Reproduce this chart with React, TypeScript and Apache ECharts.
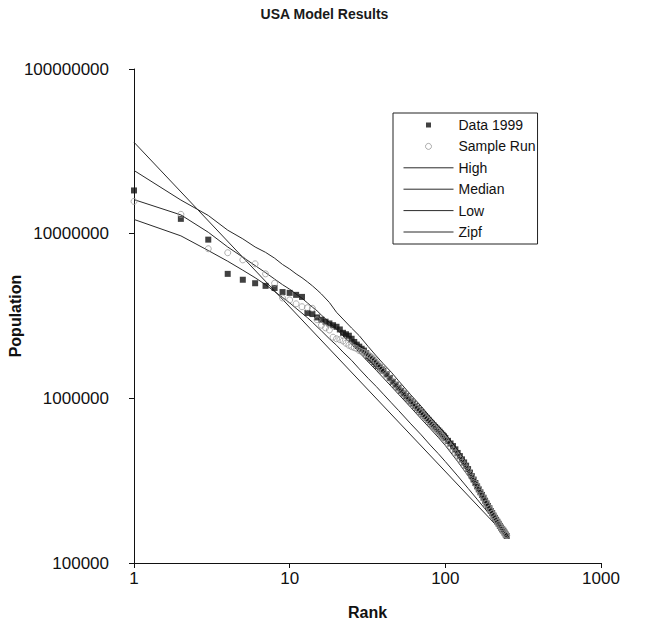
import React, { useEffect, useRef } from "react";
import * as echarts from "echarts";

const scatterRanks = [
  1, 2, 3, 4, 5, 6, 7, 8, 9, 10, 11, 12, 13, 14, 15, 16, 17, 18, 19, 20,
  21, 22, 23, 24, 25, 26, 27, 28, 29, 30, 31, 32, 33, 34, 35, 36, 37, 38, 39, 40,
  42, 44, 46, 48, 50, 52, 54, 56, 58, 60, 62, 64, 66, 68, 70, 72, 74, 76, 78, 80,
  82, 84, 86, 88, 90, 92, 94, 96, 98, 100,
  104, 108, 112, 116, 120, 124, 128, 132, 136, 140, 144, 148, 152, 156, 160, 164, 168, 172, 176, 180,
  184, 188, 192, 196, 200, 204, 208, 212, 216, 220, 224, 228, 232, 236, 240, 244, 248,
];

const data1999 = [
  18300000, 12300000, 9200000, 5700000, 5250000, 5000000, 4820000, 4680000, 4420000, 4370000,
  4250000, 4130000, 3300000, 3250000, 3100000, 3000000, 2920000, 2850000, 2780000, 2720000,
  2620000, 2500000, 2450000, 2400000, 2300000, 2200000, 2120000, 2060000, 2000000, 1950000,
  1880000, 1800000, 1750000, 1710000, 1660000, 1610000, 1570000, 1540000, 1500000, 1470000,
  1400000, 1330000, 1260000, 1210000, 1160000, 1110000, 1070000, 1030000, 995000, 960000,
  930000, 900000, 875000, 850000, 825000, 800000, 780000, 760000, 740000, 720000,
  702000, 685000, 670000, 655000, 640000, 627000, 613000, 600000, 588000, 575000,
  552000, 532000, 513000, 490000, 466000, 446000, 426000, 408000, 390000, 372000,
  354000, 337000, 321000, 306000, 292000, 280000, 269000, 259000, 249000, 239000,
  230000, 222000, 215000, 207000, 201000, 194000, 188000, 183000, 178000, 173000,
  168000, 164000, 160000, 157000, 153000, 149000, 146000,
];

const sampleRun = [
  15700000, 13100000, 8100000, 7660000, 6930000, 6560000, 5700000, 5000000, 4070000, 3960000,
  3750000, 3600000, 3550000, 3520000, 3000000, 2780000, 2680000, 2600000, 2350000, 2300000,
  2270000, 2230000, 2160000, 2100000, 2060000, 2030000, 2000000, 1950000, 1920000, 1900000,
  1870000, 1840000, 1800000, 1760000, 1710000, 1660000, 1600000, 1550000, 1500000, 1460000,
  1390000, 1320000, 1260000, 1200000, 1150000, 1110000, 1060000, 1020000, 990000, 955000,
  925000, 895000, 868000, 842000, 818000, 795000, 773000, 752000, 732000, 713000,
  694000, 676000, 660000, 645000, 630000, 615000, 600000, 587000, 574000, 560000,
  532000, 508000, 487000, 466000, 446000, 428000, 410000, 394000, 378000, 362000,
  347000, 332000, 318000, 304000, 292000, 280000, 269000, 258000, 248000, 239000,
  230000, 222000, 214000, 207000, 200000, 194000, 188000, 182000, 177000, 172000,
  168000, 164000, 160000, 156000, 152000, 149000, 147000,
];

const curveRanks = [
  1, 2, 3, 4, 5, 6, 7, 8, 9, 10, 11, 12, 13, 14, 15, 16, 18, 20, 22, 25,
  28, 32, 36, 40, 45, 50, 60, 70, 80, 90, 100, 120, 140, 160, 180, 200, 220, 248,
];

const highCurve = [
  24200000, 16000000, 12900000, 10500000, 9300000, 8300000, 7700000, 7100000, 6500000, 6100000,
  5700000, 5400000, 5100000, 4820000, 4550000, 4300000, 3820000, 3330000, 3030000, 2670000,
  2400000, 2060000, 1810000, 1620000, 1440000, 1280000, 1050000, 895000, 770000, 680000,
  610000, 485000, 385000, 310000, 253000, 210000, 178000, 146000,
];

const medianCurve = [
  16100000, 13000000, 10200000, 8300000, 7200000, 6400000, 5800000, 5300000, 4900000, 4600000,
  4300000, 4050000, 3800000, 3580000, 3400000, 3200000, 2890000, 2640000, 2400000, 2130000,
  1900000, 1660000, 1480000, 1330000, 1180000, 1060000, 880000, 750000, 655000, 580000,
  517000, 413000, 338000, 280000, 235000, 202000, 173000, 145000,
];

const lowCurve = [
  12200000, 9700000, 7900000, 6800000, 6000000, 5400000, 4900000, 4450000, 4100000, 3800000,
  3520000, 3290000, 3090000, 2900000, 2720000, 2570000, 2300000, 2100000, 1910000, 1700000,
  1510000, 1320000, 1180000, 1060000, 940000, 845000, 700000, 600000, 520000, 462000,
  413000, 338000, 284000, 244000, 213000, 189000, 168000, 145000,
];

const zipfRanks = [1, 248];
const zipfValues = [35900000, 145000];

const xTicks = [1, 10, 100, 1000];
const yTicks = [100000, 1000000, 10000000, 100000000];

const FONT = "'Liberation Sans', Arial, Helvetica, sans-serif";
// square centred in the 50x6 legend icon box (degenerate sub-paths fix the bounds)
const SQUARE_ICON = "path://M0,0L0,0M50,6L50,6M22.5,0.5H27.5V5.5H22.5Z";

function pairs(xs: number[], ys: number[]) {
  return xs.map((x, i) => [x, ys[i]]);
}

export default function App() {
  const ref = useRef<HTMLDivElement>(null);

  useEffect(() => {
    document.body.style.margin = "0";
    const chart = echarts.init(ref.current!, null, { renderer: "svg" });
    const lineStyle = { color: "#2a2a2a", width: 1 };
    const lineSeries = (name: string, xs: number[], ys: number[]) => ({
      name,
      type: "line",
      data: pairs(xs, ys),
      symbol: "none",
      lineStyle,
      itemStyle: { color: "#2a2a2a" },
      z: 3,
    });
    const lineLegend = (name: string) => ({
      name,
      itemStyle: { opacity: 0 },
      lineStyle: { color: "#2a2a2a", width: 1 },
    });
    chart.setOption({
      animation: false,
      backgroundColor: "#fff",
      title: {
        text: "USA Model Results",
        left: "center",
        top: 2,
        textStyle: { fontFamily: FONT, fontSize: 14, fontWeight: "bold", color: "#1a1a1a" },
      },
      grid: {
        left: 134,
        right: 48,
        top: 69,
        bottom: 65,
        containLabel: false,
        outerBoundsMode: "none",
      },
      legend: {
        orient: "vertical",
        left: 393,
        top: 113,
        padding: [5, 2, 5, 10],
        itemGap: 7.4,
        itemWidth: 50,
        itemHeight: 6,
        borderColor: "#222",
        borderWidth: 1,
        textStyle: { fontFamily: FONT, fontSize: 14, color: "#111" },
        data: [
          {
            name: "Data 1999",
            icon: SQUARE_ICON,
            itemStyle: { color: "#111", borderWidth: 0 },
          },
          {
            name: "Sample Run",
            icon: "circle",
            itemStyle: { color: "#fff", borderColor: "#999", borderWidth: 1 },
          },
          lineLegend("High"),
          lineLegend("Median"),
          lineLegend("Low"),
          lineLegend("Zipf"),
        ],
      },
      xAxis: {
        type: "log",
        logBase: 10,
        min: xTicks[0],
        max: xTicks[xTicks.length - 1],
        name: "Rank",
        nameLocation: "middle",
        nameGap: 41,
        nameMoveOverlap: false,
        nameTextStyle: { fontFamily: FONT, fontSize: 16, fontWeight: "bold", color: "#111" },
        axisLine: { show: true, lineStyle: { color: "#111", width: 1 } },
        axisTick: { show: true, inside: false, length: 5, lineStyle: { color: "#111" } },
        axisLabel: {
          fontFamily: FONT,
          fontSize: 17,
          color: "#111",
          margin: 7,
          formatter: (v: number) => String(Math.round(v)),
        },
        splitLine: { show: false },
        minorTick: { show: false },
      },
      yAxis: {
        type: "log",
        logBase: 10,
        min: yTicks[0],
        max: yTicks[yTicks.length - 1],
        name: "Population",
        nameLocation: "middle",
        nameGap: 111,
        nameRotate: 90,
        nameMoveOverlap: false,
        nameTextStyle: { fontFamily: FONT, fontSize: 16, fontWeight: "bold", color: "#111" },
        axisLine: { show: true, lineStyle: { color: "#111", width: 1 } },
        axisTick: { show: true, inside: false, length: 5, lineStyle: { color: "#111" } },
        axisLabel: {
          fontFamily: FONT,
          fontSize: 17,
          color: "#111",
          margin: 25,
          formatter: (v: number) => String(Math.round(v)),
        },
        splitLine: { show: false },
        minorTick: { show: false },
      },
      series: [
        {
          name: "Data 1999",
          type: "scatter",
          symbol: "rect",
          symbolSize: 6,
          data: pairs(scatterRanks, data1999),
          itemStyle: { color: "#111" },
          z: 4,
        },
        {
          name: "Sample Run",
          type: "scatter",
          symbol: "circle",
          symbolSize: 6,
          data: pairs(scatterRanks, sampleRun),
          itemStyle: { color: "rgba(0,0,0,0)", borderColor: "#9a9a9a", borderWidth: 1 },
          z: 5,
        },
        lineSeries("High", curveRanks, highCurve),
        lineSeries("Median", curveRanks, medianCurve),
        lineSeries("Low", curveRanks, lowCurve),
        lineSeries("Zipf", zipfRanks, zipfValues),
      ],
    });
    return () => chart.dispose();
  }, []);

  return <div ref={ref} style={{ width: 649, height: 628 }} />;
}
